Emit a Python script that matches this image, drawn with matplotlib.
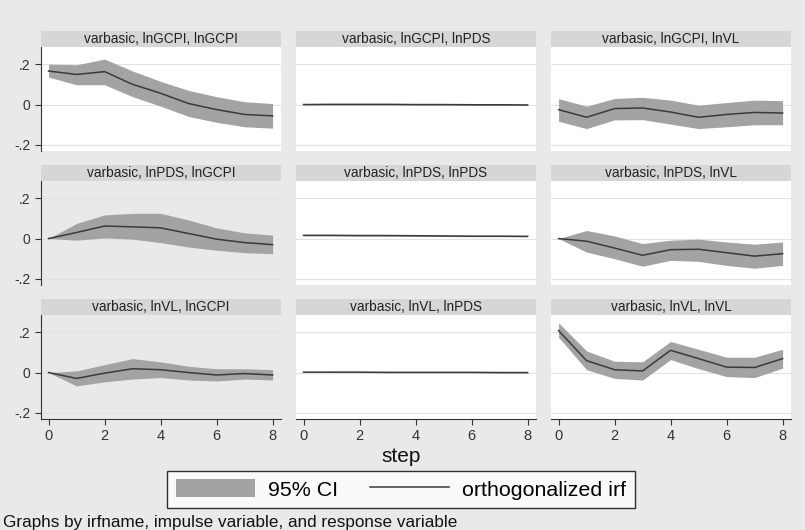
import numpy as np
import matplotlib.pyplot as plt
from matplotlib.patches import Rectangle, Patch
from matplotlib.lines import Line2D

plt.rcParams['font.family'] = ['Liberation Sans', 'DejaVu Sans']

steps = [0, 1, 2, 3, 4, 5, 6, 7, 8]

titles = ["varbasic, lnGCPI, lnGCPI", "varbasic, lnGCPI, lnPDS", "varbasic, lnGCPI, lnVL",
          "varbasic, lnPDS, lnGCPI", "varbasic, lnPDS, lnPDS", "varbasic, lnPDS, lnVL",
          "varbasic, lnVL, lnGCPI", "varbasic, lnVL, lnPDS", "varbasic, lnVL, lnVL"]

# orthogonalized irf, per panel (row-major)
irf_gcpi_gcpi = [0.166, 0.149, 0.163, 0.100, 0.056, 0.005, -0.025, -0.049, -0.056]
irf_gcpi_pds = [0.000, 0.001, 0.001, 0.001, 0.000, 0.000, -0.001, -0.001, -0.002]
irf_gcpi_vl = [-0.025, -0.063, -0.020, -0.017, -0.037, -0.063, -0.049, -0.039, -0.042]
irf_pds_gcpi = [0.000, 0.030, 0.062, 0.058, 0.053, 0.025, -0.003, -0.020, -0.030]
irf_pds_pds = [0.016, 0.016, 0.015, 0.015, 0.014, 0.013, 0.012, 0.012, 0.011]
irf_pds_vl = [0.000, -0.013, -0.047, -0.083, -0.055, -0.053, -0.070, -0.087, -0.075]
irf_vl_gcpi = [0.000, -0.029, -0.003, 0.019, 0.014, 0.000, -0.012, -0.005, -0.012]
irf_vl_pds = [0.002, 0.002, 0.002, 0.001, 0.001, 0.001, 0.001, 0.000, 0.000]
irf_vl_vl = [0.208, 0.059, 0.014, 0.008, 0.110, 0.069, 0.027, 0.025, 0.069]

# 95% CI upper
up_gcpi_gcpi = [0.200, 0.197, 0.225, 0.166, 0.115, 0.070, 0.039, 0.014, 0.005]
up_gcpi_pds = [0.002, 0.004, 0.004, 0.004, 0.003, 0.003, 0.002, 0.002, 0.001]
up_gcpi_vl = [0.029, -0.008, 0.030, 0.036, 0.022, -0.003, 0.010, 0.022, 0.019]
up_pds_gcpi = [0.000, 0.075, 0.117, 0.125, 0.125, 0.092, 0.053, 0.028, 0.017]
up_pds_pds = [0.019, 0.019, 0.018, 0.018, 0.017, 0.016, 0.015, 0.015, 0.014]
up_pds_vl = [0.000, 0.040, 0.013, -0.025, -0.008, -0.003, -0.017, -0.028, -0.017]
up_vl_gcpi = [0.000, 0.008, 0.039, 0.069, 0.053, 0.031, 0.019, 0.019, 0.014]
up_vl_pds = [0.003, 0.004, 0.004, 0.003, 0.003, 0.003, 0.003, 0.002, 0.002]
up_vl_vl = [0.246, 0.107, 0.056, 0.053, 0.154, 0.115, 0.076, 0.076, 0.115]

# 95% CI lower
lo_gcpi_gcpi = [0.136, 0.098, 0.098, 0.039, -0.008, -0.059, -0.088, -0.110, -0.117]
lo_gcpi_pds = [-0.002, -0.002, -0.002, -0.002, -0.003, -0.003, -0.004, -0.004, -0.005]
lo_gcpi_vl = [-0.083, -0.119, -0.076, -0.075, -0.097, -0.119, -0.110, -0.100, -0.100]
lo_pds_gcpi = [0.000, -0.008, 0.003, -0.003, -0.020, -0.042, -0.058, -0.070, -0.075]
lo_pds_pds = [0.013, 0.013, 0.012, 0.012, 0.011, 0.010, 0.009, 0.009, 0.008]
lo_pds_vl = [0.000, -0.067, -0.100, -0.137, -0.108, -0.113, -0.133, -0.147, -0.133]
lo_vl_gcpi = [0.000, -0.066, -0.046, -0.032, -0.025, -0.037, -0.042, -0.032, -0.037]
lo_vl_pds = [0.001, 0.000, 0.000, -0.001, -0.001, -0.001, -0.001, -0.002, -0.002]
lo_vl_vl = [0.175, 0.014, -0.029, -0.037, 0.064, 0.019, -0.020, -0.025, 0.022]

irfs = [irf_gcpi_gcpi, irf_gcpi_pds, irf_gcpi_vl, irf_pds_gcpi, irf_pds_pds, irf_pds_vl,
        irf_vl_gcpi, irf_vl_pds, irf_vl_vl]
uppers = [up_gcpi_gcpi, up_gcpi_pds, up_gcpi_vl, up_pds_gcpi, up_pds_pds, up_pds_vl,
          up_vl_gcpi, up_vl_pds, up_vl_vl]
lowers = [lo_gcpi_gcpi, lo_gcpi_pds, lo_gcpi_vl, lo_pds_gcpi, lo_pds_pds, lo_pds_vl,
          lo_vl_gcpi, lo_vl_pds, lo_vl_vl]

W, H = 805, 530
fig = plt.figure(figsize=(W / 100, H / 100), dpi=100)
fig.patch.set_facecolor('#e9e9e9')

col_left = [41, 296, 551]
row_top = [47, 181, 315]
pw, ph = 240, 104
strip_h = 16
shaded = {3, 6}  # panels drawn on the grey background

band_col = '#a3a3a3'
line_col = '#3a3a3a'

for k in range(9):
    r, c = divmod(k, 3)
    ax = fig.add_axes([col_left[c] / W, 1 - (row_top[r] + ph) / H, pw / W, ph / H])
    ax.set_facecolor('#e9e9e9' if k in shaded else 'white')
    ax.fill_between(steps, lowers[k], uppers[k], color=band_col, lw=0)
    ax.plot(steps, irfs[k], color=line_col, lw=1.1)
    ax.set_xlim(-0.27, 8.3)
    ax.set_ylim(-0.23, 0.285)
    ax.set_yticks([-0.2, 0, 0.2])
    ax.set_xticks([0, 2, 4, 6, 8])
    for y in [-0.2, 0, 0.2]:
        ax.axhline(y, color='#e2e2e2', lw=0.8, zorder=0)
    for s in ax.spines.values():
        s.set_visible(False)
    ax.tick_params(colors='#333333', labelsize=10.5, length=4, width=0.8)
    ax.tick_params(axis='y', labelsize=10)
    if c == 0:
        ax.spines['left'].set_visible(True)
        ax.spines['left'].set_color('#333333')
        ax.set_yticklabels(['-.2', '0', '.2'])
    else:
        ax.tick_params(axis='y', left=False, labelleft=False)
    if r == 2:
        ax.spines['bottom'].set_visible(True)
        ax.spines['bottom'].set_color('#333333')
    else:
        ax.tick_params(axis='x', bottom=False, labelbottom=False)
    # title strip
    sh = strip_h / ph
    ax.add_patch(Rectangle((0, 1), 1, sh, transform=ax.transAxes, facecolor='#d6d6d6',
                           edgecolor='none', clip_on=False))
    ax.text(0.5, 1 + sh / 2, titles[k], transform=ax.transAxes, ha='center', va='center',
            fontsize=9.8, color='#222222')

fig.text(401 / W, 1 - 456 / H, 'step', ha='center', va='center', fontsize=15, color='#111111')

handles = [Patch(facecolor=band_col, edgecolor='none'),
           Line2D([0], [0], color=line_col, lw=1.1)]
leg = fig.legend(handles, ['95% CI', 'orthogonalized irf'], loc='center',
                 bbox_to_anchor=(401 / W, 1 - 489.5 / H), ncol=2, fontsize=15.4,
                 frameon=True, fancybox=False, edgecolor='black', facecolor='white',
                 handlelength=3.7, handleheight=0.9, handletextpad=0.6,
                 columnspacing=1.5, borderpad=0.4)
leg.get_frame().set_linewidth(1.0)

fig.text(3 / W, 1 - 522 / H, 'Graphs by irfname, impulse variable, and response variable',
         ha='left', va='center', fontsize=12.3, color='#111111')

fig.savefig('out.png', dpi=100, facecolor=fig.get_facecolor())
